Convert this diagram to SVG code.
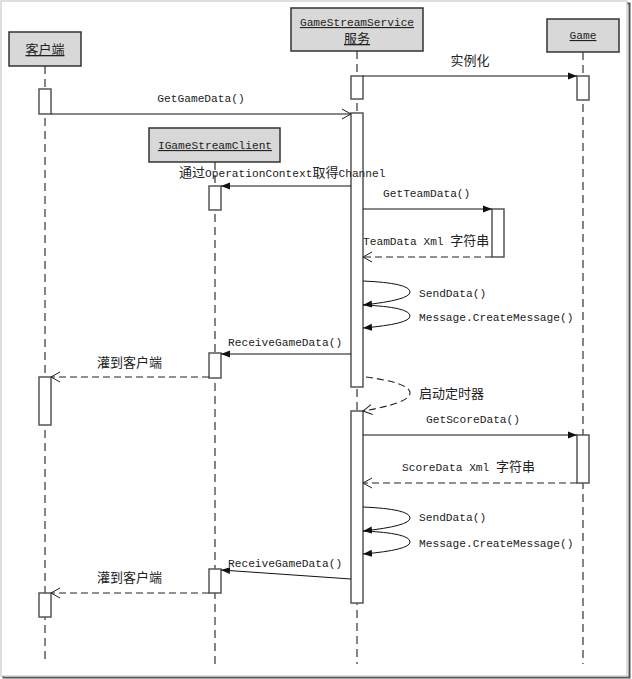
<svg xmlns="http://www.w3.org/2000/svg" width="632" height="679" viewBox="0 0 632 679">
<style>
.hdr{fill:#d8d8d8;stroke:#333;stroke-width:1.5}
.act{fill:#fff;stroke:#555;stroke-width:1.5}
.life{stroke:#666;stroke-width:1.6;stroke-dasharray:8 5;fill:none}
.msg{stroke:#111;stroke-width:1;fill:none}
.ret{stroke:#222;stroke-width:1.1;stroke-dasharray:7 4;fill:none}
text{font-family:"Liberation Mono","Noto Sans CJK SC",monospace;font-size:11.2px;fill:#222}
.cj{font-family:"Noto Sans CJK SC",sans-serif;font-size:13px}
.u{text-decoration:underline}
</style>
<defs>
<marker id="fa" markerUnits="userSpaceOnUse" markerWidth="10" markerHeight="8" refX="9" refY="4" orient="auto"><path d="M0,0.5 L9,4 L0,7.5 z" fill="#111"/></marker>
<marker id="oa" markerUnits="userSpaceOnUse" markerWidth="12" markerHeight="12" refX="10" refY="6" orient="auto"><path d="M1,1 L10,6 L1,11" fill="none" stroke="#222" stroke-width="1"/></marker>
</defs>
<rect x="0" y="0" width="632" height="679" fill="#fff"/>
<rect x="3.5" y="3.5" width="626" height="674" fill="none" stroke="#555" stroke-width="2"/>
<rect x="1" y="1" width="626" height="675" fill="#fff" stroke="#c8c8c8" stroke-width="1.2"/>

<g id="lifelines">
<line class="life" x1="45" y1="66" x2="45" y2="664"/>
<line class="life" x1="215" y1="162" x2="215" y2="664"/>
<line class="life" x1="357" y1="51" x2="357" y2="664"/>
<line class="life" x1="583" y1="52" x2="583" y2="664"/>
</g>

<g id="client">
<rect class="hdr" x="9" y="32" width="72" height="34"/>
<text class="cj u" x="45" y="54" text-anchor="middle">客户端</text>
</g>
<g id="service">
<rect class="hdr" x="291" y="8" width="132" height="43"/>
<text class="u" x="357" y="26" text-anchor="middle">GameStreamService</text>
<text class="cj u" x="357" y="43" text-anchor="middle">服务</text>
</g>
<g id="game">
<rect class="hdr" x="547" y="19" width="72" height="33"/>
<text class="u" x="583" y="39" text-anchor="middle">Game</text>
</g>
<g id="igsc">
<rect class="hdr" x="149" y="128" width="131" height="34"/>
<text class="u" x="215" y="149" text-anchor="middle">IGameStreamClient</text>
</g>

<g id="activations">
<rect class="act" x="39" y="89" width="12" height="25"/>
<rect class="act" x="39" y="377" width="12" height="48"/>
<rect class="act" x="39" y="593" width="12" height="24"/>
<rect class="act" x="209" y="186" width="12" height="24"/>
<rect class="act" x="209" y="353" width="12" height="25"/>
<rect class="act" x="209" y="569" width="12" height="24"/>
<rect class="act" x="351" y="76" width="12" height="23"/>
<rect class="act" x="351" y="113" width="12" height="274"/>
<rect class="act" x="351" y="411" width="12" height="192"/>
<rect class="act" x="577" y="76" width="12" height="24"/>
<rect class="act" x="577" y="435" width="12" height="48"/>
<rect class="act" x="492" y="209" width="12" height="48"/>
</g>

<g id="connectors">
<line class="msg" x1="363" y1="76" x2="577" y2="76" marker-end="url(#fa)"/>
<line class="msg" x1="51" y1="114" x2="351" y2="114" marker-end="url(#oa)"/>
<line class="msg" x1="351" y1="186" x2="221" y2="186" marker-end="url(#fa)"/>
<line class="msg" x1="363" y1="209" x2="492" y2="209" marker-end="url(#fa)"/>
<line class="ret" x1="492" y1="257" x2="363" y2="257" marker-end="url(#oa)"/>
<path class="msg" d="M363,281 Q410,283 410,292 Q410,300 363,305" marker-end="url(#fa)"/>
<path class="msg" d="M363,305 Q410,307 410,316 Q410,324 363,328" marker-end="url(#fa)"/>
<line class="msg" x1="351" y1="354" x2="221" y2="354" marker-end="url(#fa)"/>
<line class="ret" x1="209" y1="377" x2="51" y2="377" marker-end="url(#oa)"/>
<path class="ret" d="M366,377 Q410,383 410,393 Q410,403 363,411" marker-end="url(#oa)"/>
<line class="msg" x1="363" y1="435" x2="577" y2="435" marker-end="url(#fa)"/>
<line class="ret" x1="577" y1="483" x2="363" y2="483" marker-end="url(#oa)"/>
<path class="msg" d="M363,507 Q410,509 410,518 Q410,526 363,531" marker-end="url(#fa)"/>
<path class="msg" d="M363,531 Q410,533 410,542 Q410,550 363,554" marker-end="url(#fa)"/>
<line class="msg" x1="351" y1="579" x2="221" y2="570" marker-end="url(#fa)"/>
<line class="ret" x1="209" y1="593" x2="51" y2="593" marker-end="url(#oa)"/>
</g>

<g id="labels">
<text class="cj" x="470" y="65" text-anchor="middle">实例化</text>
<text x="201" y="102" text-anchor="middle">GetGameData()</text>
<text x="179" y="177"><tspan class="cj">通过</tspan>OperationContext<tspan class="cj">取得</tspan>Channel</text>
<text x="383" y="197">GetTeamData()</text>
<text x="363" y="245">TeamData Xml <tspan class="cj">字符串</tspan></text>
<text x="419" y="297">SendData()</text>
<text x="419" y="321">Message.CreateMessage()</text>
<text x="228" y="346">ReceiveGameData()</text>
<text class="cj" x="97" y="367">灌到客户端</text>
<text class="cj" x="419" y="398">启动定时器</text>
<text x="426" y="423">GetScoreData()</text>
<text x="402" y="471">ScoreData Xml <tspan class="cj">字符串</tspan></text>
<text x="419" y="521">SendData()</text>
<text x="419" y="547">Message.CreateMessage()</text>
<text x="228" y="567">ReceiveGameData()</text>
<text class="cj" x="97" y="582">灌到客户端</text>
</g>
</svg>
